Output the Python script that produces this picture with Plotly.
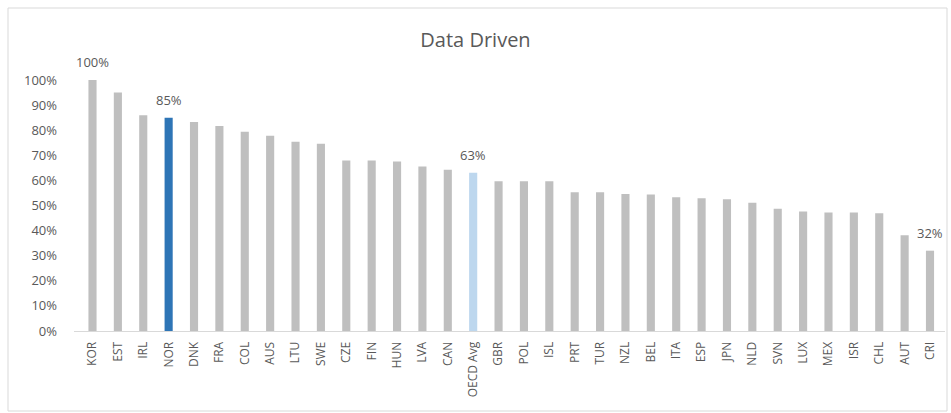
import plotly.graph_objects as go

# Data Driven score by country (percent)
countries = ['KOR', 'EST', 'IRL', 'NOR', 'DNK', 'FRA', 'COL', 'AUS', 'LTU', 'SWE',
             'CZE', 'FIN', 'HUN', 'LVA', 'CAN', 'OECD Avg', 'GBR', 'POL', 'ISL', 'PRT',
             'TUR', 'NZL', 'BEL', 'ITA', 'ESP', 'JPN', 'NLD', 'SVN', 'LUX', 'MEX',
             'ISR', 'CHL', 'AUT', 'CRI']
values = [100, 95, 86, 85, 83.3, 81.7, 79.4, 77.8, 75.4, 74.6,
          67.9, 67.9, 67.5, 65.5, 64.2, 63, 59.7, 59.7, 59.7, 55.3,
          55.3, 54.6, 54.4, 53.3, 52.9, 52.5, 51.1, 48.7, 47.6, 47.2,
          47.2, 46.9, 38.1, 32]
labelled = ['KOR', 'NOR', 'OECD Avg', 'CRI']

GREY = '#BFBFBF'
NOR_BLUE = '#2E75B6'
AVG_BLUE = '#BDD7EE'
TXT = '#595959'

colors = []
for c in countries:
    if c == 'NOR':
        colors.append(NOR_BLUE)
    elif c == 'OECD Avg':
        colors.append(AVG_BLUE)
    else:
        colors.append(GREY)

W, H = 951, 413
ml, mr, mt, mb = 74, 6, 80, 82

fig = go.Figure()
fig.add_trace(go.Bar(
    x=countries, y=values,
    marker=dict(color=colors, line_width=0),
    width=0.32,
    hovertemplate='%{x}: %{y:.0f}%<extra></extra>',
))

# data labels only on the highlighted bars
for c, v in zip(countries, values):
    if c in labelled:
        fig.add_annotation(x=c, y=v, text=f"{v:.0f}%", showarrow=False,
                           yanchor='bottom', yshift=7,
                           font=dict(size=13, color=TXT))

# light frame round the chart area (like the Excel chart border)
pw = W - ml - mr
ph = H - mt - mb
fig.add_shape(type='rect', xref='paper', yref='paper',
              x0=(8 - ml) / pw, x1=(947 - ml) / pw,
              y0=(H - mb - 411) / ph, y1=(H - mb - 8) / ph,
              line=dict(color='#D9D9D9', width=1))

fig.update_layout(
    width=W, height=H,
    margin=dict(l=ml, r=mr, t=mt, b=mb, autoexpand=False),
    title=dict(text='Data Driven', x=0.5, xref='container', xanchor='center',
               y=1 - 40 / H, yanchor='middle',
               font=dict(size=20, color=TXT)),
    font=dict(family='Open Sans, sans-serif', color=TXT),
    plot_bgcolor='white', paper_bgcolor='white',
    showlegend=False,
)
fig.update_xaxes(tickangle=-90, tickfont=dict(size=12, color=TXT),
                 ticklabelstandoff=5,
                 showline=True, linecolor='#D9D9D9', linewidth=1,
                 showgrid=False, ticks='', automargin=False)
fig.update_yaxes(range=[0, 100], dtick=10, ticksuffix='%',
                 tickfont=dict(size=13, color=TXT), ticklabelstandoff=16,
                 showgrid=False, zeroline=False, showline=False, ticks='',
                 automargin=False)

fig.write_html("out.html", config={'displayModeBar': False},
               post_script="document.body.style.margin='0px';")
